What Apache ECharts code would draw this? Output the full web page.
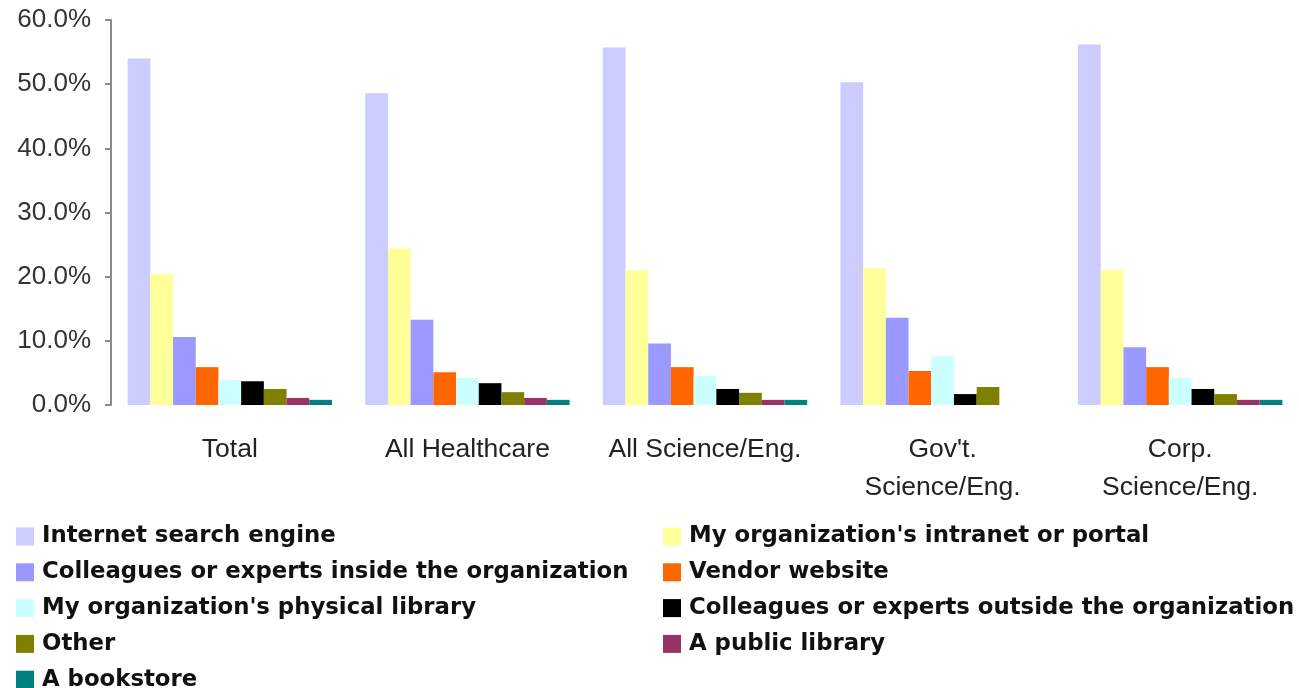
<!DOCTYPE html>
<html>
<head>
<meta charset="utf-8">
<script src="https://cdn.jsdelivr.net/npm/echarts@6/dist/echarts.min.js"></script>
<style>
html, body { margin: 0; padding: 0; background: #fff; }
#chart { width: 1299px; height: 688px; }
</style>
</head>
<body>
<div id="chart"></div>
<script>
// data (percent)
var categories = ['Total', 'All Healthcare', 'All Science/Eng.', "Gov't.\nScience/Eng.", 'Corp.\nScience/Eng.'];
var seriesNames = [
  'Internet search engine',
  "My organization's intranet or portal",
  'Colleagues or experts inside the organization',
  'Vendor website',
  "My organization's physical library",
  'Colleagues or experts outside the organization',
  'Other',
  'A public library',
  'A bookstore'
];
var colors = ['#ccccff', '#ffff99', '#9999ff', '#ff6600', '#ccffff', '#000000', '#808000', '#993366', '#008080'];

var internetSearch = [54.0, 48.6, 55.7, 50.3, 56.2];
var intranet       = [20.4, 24.4, 21.0, 21.3, 21.0];
var insideExperts  = [10.6, 13.3, 9.6, 13.6, 9.0];
var vendorSite     = [5.9, 5.1, 5.9, 5.3, 5.9];
var physLibrary    = [3.9, 4.2, 4.5, 7.6, 4.2];
var outsideExperts = [3.7, 3.4, 2.5, 1.7, 2.5];
var other          = [2.5, 2.0, 1.9, 2.8, 1.7];
var publicLibrary  = [1.1, 1.1, 0.8, 0, 0.8];
var bookstore      = [0.8, 0.8, 0.8, 0, 0.8];

var allData = [internetSearch, intranet, insideExperts, vendorSite, physLibrary, outsideExperts, other, publicLibrary, bookstore];

var myChart = echarts.init(document.getElementById('chart'));

var series = seriesNames.map(function (name, i) {
  return {
    name: name,
    type: 'bar',
    data: allData[i],
    barGap: '0%',
    barCategoryGap: '14%',
    itemStyle: { color: colors[i] }
  };
});

var legendText = {
  fontFamily: 'DejaVu Sans',
  fontWeight: 'bold',
  fontSize: 22.8,
  color: '#111',
  lineHeight: 22,
  padding: [0, 0, 0, 3]
};

function makeLegend(left, names) {
  return {
    orient: 'vertical',
    left: left,
    top: 525,
    padding: 0,
    height: 170,
    itemWidth: 18,
    itemHeight: 18,
    itemGap: 12.8,
    icon: 'rect',
    textStyle: legendText,
    data: names
  };
}

var option = {
  animation: false,
  color: colors,
  grid: { left: 111, right: -17, top: 20, bottom: 283, containLabel: false },
  legend: [
    makeLegend(16, [seriesNames[0], seriesNames[2], seriesNames[4], seriesNames[6], seriesNames[8]]),
    makeLegend(663, [seriesNames[1], seriesNames[3], seriesNames[5], seriesNames[7]])
  ],
  xAxis: {
    type: 'category',
    data: categories,
    axisLine: { show: false },
    axisTick: { show: false },
    axisLabel: {
      margin: 26,
      fontFamily: 'Liberation Sans',
      fontSize: 26.5,
      color: '#222',
      lineHeight: 38,
      interval: 0
    }
  },
  yAxis: {
    type: 'value',
    min: 0,
    max: 60,
    interval: 10,
    splitLine: { show: false },
    axisLine: { show: true, lineStyle: { color: '#8a8a8a', width: 2 } },
    axisTick: { show: true, length: 6, lineStyle: { color: '#8a8a8a', width: 2 } },
    axisLabel: {
      margin: 20,
      fontFamily: 'Liberation Sans',
      fontSize: 26,
      color: '#333',
      padding: [6, 0, 0, 0],
      formatter: function (v) { return v.toFixed(1) + '%'; }
    }
  },
  series: series
};

myChart.setOption(option);
</script>
</body>
</html>
